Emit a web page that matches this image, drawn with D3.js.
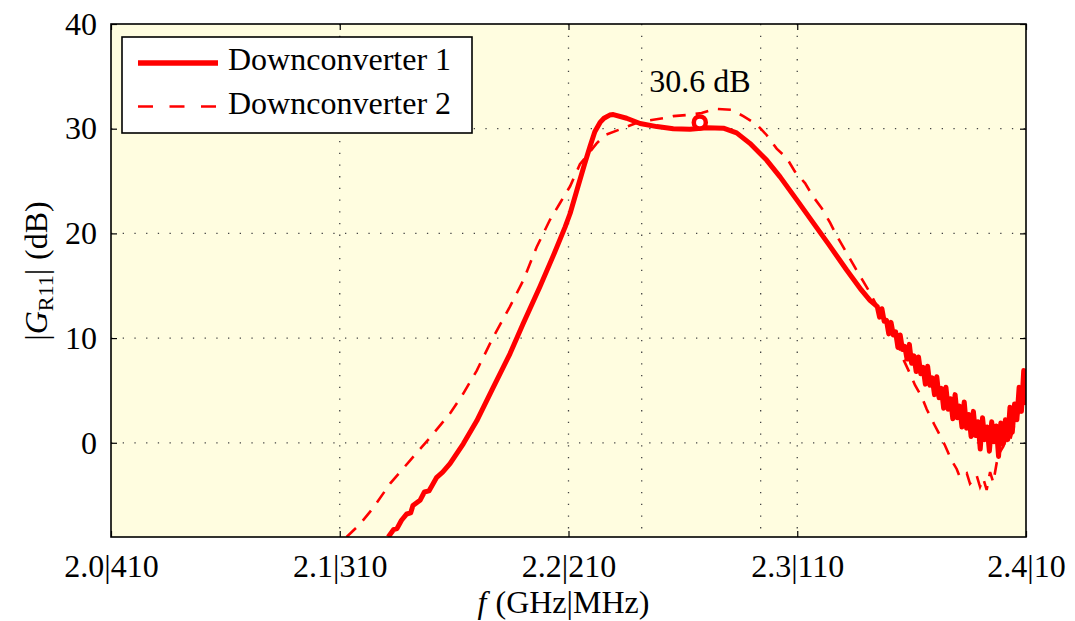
<!DOCTYPE html>
<html>
<head>
<meta charset="utf-8">
<script src="https://cdn.jsdelivr.net/npm/d3@7"></script>
<style>
  body { margin: 0; background: #fff; }
  svg { font-family: "Liberation Serif", "DejaVu Serif", serif; }
</style>
</head>
<body>
<div id="chart"></div>
<script>
// measured gain |G_R11| of the two downconverters, frequency in GHz
const FREQ_1 = [2.1212, 2.1235, 2.1250, 2.1270, 2.1293, 2.1310, 2.1320, 2.1351, 2.1370, 2.1390,
  2.1424, 2.1450, 2.1482, 2.1540, 2.1599, 2.1671, 2.1744, 2.1802, 2.1875, 2.1934,
  2.1985, 2.2007, 2.2043, 2.2070, 2.2094, 2.2115, 2.2138, 2.2155, 2.2180, 2.2196,
  2.2254, 2.2313, 2.2386, 2.2458, 2.2531, 2.2604, 2.2677, 2.2735, 2.2793, 2.2866,
  2.2925, 2.2998, 2.3070, 2.3136, 2.3216, 2.3280, 2.3318,
  2.335, 2.336, 2.337, 2.338, 2.339, 2.340, 2.341, 2.342, 2.343, 2.344,
  2.345, 2.346, 2.347, 2.348, 2.349, 2.350, 2.351, 2.352, 2.353, 2.354,
  2.355, 2.356, 2.357, 2.358, 2.359, 2.360, 2.361, 2.362, 2.363, 2.364,
  2.365, 2.366, 2.367, 2.368, 2.369, 2.370, 2.371, 2.372, 2.373, 2.374,
  2.375, 2.376, 2.377, 2.378, 2.379, 2.380, 2.381, 2.382, 2.383, 2.384,
  2.385, 2.386, 2.387, 2.388, 2.389, 2.390, 2.391, 2.392, 2.393, 2.394,
  2.395, 2.396, 2.397, 2.398, 2.399, 2.400];
const GAIN_1 = [-9.0, -8.3, -8.2, -7.4, -6.8, -6.7, -6.0, -5.5, -4.7, -4.6,
  -3.3, -2.8, -2.0, -0.1, 2.1, 5.3, 8.5, 11.4, 14.9, 17.9,
  20.6, 21.9, 24.6, 26.6, 28.3, 29.7, 30.6, 31.0, 31.3, 31.35,
  31.0, 30.5, 30.2, 30.0, 29.95, 30.1, 30.05, 29.6, 28.6, 27.0,
  25.4, 23.2, 21.0, 19.0, 16.5, 14.6, 13.6,
  13.0, 12.0, 12.8, 11.6, 11.7, 10.4, 11.5, 10.3, 10.6, 9.1,
  10.3, 8.9, 9.2, 8.0, 9.4, 7.6, 8.3, 6.8, 8.2, 6.6,
  7.2, 5.6, 7.3, 5.5, 6.2, 4.6, 6.3, 4.3, 5.2, 3.3,
  5.3, 3.2, 4.2, 2.3, 4.6, 2.4, 3.5, 1.5, 3.9, 1.4,
  2.7, 0.6, 3.0, 0.7, 2.0, -0.6, 2.4, 0.3, 1.5, -0.8,
  2.0, 0.1, 1.6, -1.3, 1.9, -0.1, 2.2, 0.3, 3.4, 1.0,
  3.7, 2.2, 5.3, 3.0, 6.9, 3.6];

const FREQ_2 = [2.1030, 2.1089, 2.1147, 2.1220, 2.1307, 2.1395, 2.1482, 2.1540, 2.1599, 2.1671,
  2.1744, 2.1802, 2.1861, 2.1919, 2.1963, 2.2007, 2.2050, 2.2123, 2.2160, 2.2233,
  2.2291, 2.2356, 2.2414, 2.2458, 2.2517, 2.2582, 2.2640, 2.2713, 2.2764, 2.2823,
  2.2866, 2.2910, 2.2954, 2.2990, 2.3034, 2.3070, 2.3107, 2.3144, 2.3172, 2.3209,
  2.3267, 2.3311, 2.3362, 2.3435, 2.3461, 2.3493, 2.3515, 2.3544, 2.3566, 2.3599,
  2.3624, 2.3646, 2.3675, 2.3697, 2.3711, 2.3741, 2.3755, 2.3784, 2.3799, 2.3813,
  2.3828, 2.3843, 2.3857, 2.3872, 2.3886, 2.3901, 2.3916, 2.3930, 2.3945, 2.3961,
  2.3974, 2.3987, 2.4000];
const GAIN_2 = [-9.0, -7.75, -6.2, -3.9, -1.7, 0.5, 2.8, 4.7, 6.9, 10.1,
  13.0, 15.5, 18.7, 21.3, 22.9, 24.5, 26.6, 28.6, 29.4, 30.0,
  30.5, 30.8, 31.0, 31.2, 31.3, 31.5, 31.9, 31.8, 31.2, 30.4,
  29.4, 28.1, 27.2, 25.9, 24.8, 23.5, 22.4, 21.0, 19.8, 18.4,
  16.2, 14.6, 12.5, 9.8, 8.1, 6.6, 5.5, 4.4, 3.2, 1.75,
  0.7, -0.26, -1.7, -2.5, -3.3, -2.9, -3.9, -3.1, -4.2, -3.4,
  -4.5, -2.8, -3.8, -1.9, -0.9, -0.35, 0.5, 0.2, 1.4, 2.3,
  3.6, 4.8, 5.5];

const SERIES_NAMES = ["Downconverter 1", "Downconverter 2"];

// axes
const X_TICKS = [2.0, 2.1, 2.2, 2.3, 2.4];
const X_TICK_LABELS = ["2.0|410", "2.1|310", "2.2|210", "2.3|110", "2.4|10"];
const Y_TICKS = [0, 10, 20, 30, 40];
const X_GRID = [2.1, 2.2, 2.232, 2.284, 2.3];
const Y_GRID = [0, 10, 20, 30];

// marked point
const MARK_FREQ = 2.2574;
const MARK_GAIN = 30.6;

const FRAME_HEIGHT = 621;
const FRAME_WIDTH = 1075;
const MARGINS = {left: 111, right: 49, top: 24, bottom: 84};
const FONT = "'Liberation Serif', 'DejaVu Serif', serif";

const VIS_HEIGHT = FRAME_HEIGHT - MARGINS.top - MARGINS.bottom;
const VIS_WIDTH = FRAME_WIDTH - MARGINS.left - MARGINS.right;

const RED = "#ff0000";

const FRAME = d3.select("#chart")
                .append("svg")
                  .attr("width", FRAME_WIDTH)
                  .attr("height", FRAME_HEIGHT);

const X_SCALE = d3.scaleLinear()
                  .domain([2.0, 2.4])
                  .range([0, VIS_WIDTH]);
const Y_SCALE = d3.scaleLinear()
                  .domain([-9, 40])
                  .range([VIS_HEIGHT, 0]);

const PLOT = FRAME.append("g")
                  .attr("transform", "translate(" + MARGINS.left + "," + MARGINS.top + ")");

// pale yellow plot background
PLOT.append("rect")
    .attr("width", VIS_WIDTH)
    .attr("height", VIS_HEIGHT)
    .attr("fill", "#fffde0");

PLOT.append("clipPath")
    .attr("id", "clip")
  .append("rect")
    .attr("width", VIS_WIDTH)
    .attr("height", VIS_HEIGHT);

// dotted grid
PLOT.selectAll(".xgrid")
    .data(X_GRID)
    .enter()
    .append("line")
      .attr("x1", (d) => X_SCALE(d))
      .attr("x2", (d) => X_SCALE(d))
      .attr("y1", 0)
      .attr("y2", VIS_HEIGHT)
      .attr("stroke", "#444")
      .attr("stroke-width", 1.3)
      .attr("stroke-dasharray", "1.3,10.4");

PLOT.selectAll(".ygrid")
    .data(Y_GRID)
    .enter()
    .append("line")
      .attr("x1", 0)
      .attr("x2", VIS_WIDTH)
      .attr("y1", (d) => Y_SCALE(d))
      .attr("y2", (d) => Y_SCALE(d))
      .attr("stroke", "#444")
      .attr("stroke-width", 1.3)
      .attr("stroke-dasharray", "1.3,10.4");

// curves
const line = d3.line()
               .x((d) => X_SCALE(d[0]))
               .y((d) => Y_SCALE(d[1]));

const data1 = FREQ_1.map((f, i) => [f, GAIN_1[i]]);
const data2 = FREQ_2.map((f, i) => [f, GAIN_2[i]]);

const CURVES = PLOT.append("g").attr("clip-path", "url(#clip)");

CURVES.append("path")
      .datum(data2)
      .attr("d", line)
      .attr("fill", "none")
      .attr("stroke", RED)
      .attr("stroke-width", 2.6)
      .attr("stroke-dasharray", "13,10");

CURVES.append("path")
      .datum(data1)
      .attr("d", line)
      .attr("fill", "none")
      .attr("stroke", RED)
      .attr("stroke-width", 5)
      .attr("stroke-linejoin", "round");

// marker and its label
PLOT.append("circle")
    .attr("cx", X_SCALE(MARK_FREQ))
    .attr("cy", Y_SCALE(MARK_GAIN))
    .attr("r", 6)
    .attr("fill", "#fff")
    .attr("stroke", RED)
    .attr("stroke-width", 4.5);

PLOT.append("text")
    .attr("x", X_SCALE(MARK_FREQ))
    .attr("y", Y_SCALE(MARK_GAIN) - 30)
    .attr("text-anchor", "middle")
    .style("font-size", "32px")
    .text(MARK_GAIN.toFixed(1) + " dB");

// axes with inward ticks on all four sides
function style_axis(g) {
    g.attr("font-family", FONT).attr("font-size", 32);
    g.select(".domain").remove();
    g.selectAll(".tick text")
        .style("font-family", FONT)
        .style("font-size", "32px")
        .attr("fill", "#000");
    g.selectAll(".tick line")
        .attr("stroke", "#000")
        .attr("stroke-width", 1.2);
}

PLOT.append("g")
    .attr("transform", "translate(0," + VIS_HEIGHT + ")")
    .call(d3.axisBottom(X_SCALE)
            .tickValues(X_TICKS)
            .tickFormat((d, i) => X_TICK_LABELS[i])
            .tickSize(-6)
            .tickSizeOuter(0)
            .tickPadding(17))
    .call(style_axis);

PLOT.append("g")
    .call(d3.axisTop(X_SCALE)
            .tickValues(X_TICKS)
            .tickFormat("")
            .tickSize(-6)
            .tickSizeOuter(0))
    .call(style_axis);

PLOT.append("g")
    .call(d3.axisLeft(Y_SCALE)
            .tickValues(Y_TICKS)
            .tickSize(-6)
            .tickSizeOuter(0)
            .tickPadding(14))
    .call(style_axis);

PLOT.append("g")
    .attr("transform", "translate(" + VIS_WIDTH + ",0)")
    .call(d3.axisRight(Y_SCALE)
            .tickValues(Y_TICKS)
            .tickFormat("")
            .tickSize(-6)
            .tickSizeOuter(0))
    .call(style_axis);

// plot border
PLOT.append("rect")
    .attr("width", VIS_WIDTH)
    .attr("height", VIS_HEIGHT)
    .attr("fill", "none")
    .attr("stroke", "#000")
    .attr("stroke-width", 1.6);

// axis titles
const xTitle = FRAME.append("text")
                    .attr("x", MARGINS.left + X_SCALE(2.2) - 5)
                    .attr("y", 613)
                    .attr("text-anchor", "middle")
                    .style("font-size", "32px");
xTitle.append("tspan").style("font-style", "italic").text("f");
xTitle.append("tspan").attr("dx", 9).text("(GHz|MHz)");

const yTitle = FRAME.append("text")
                    .attr("transform", "translate(47,271) rotate(-90)")
                    .attr("text-anchor", "middle")
                    .style("font-size", "32px");
yTitle.append("tspan").text("|");
yTitle.append("tspan").style("font-style", "italic").text("G");
yTitle.append("tspan").attr("dy", 6).style("font-size", "22px").text("R11");
yTitle.append("tspan").attr("dy", -6).text("|");
yTitle.append("tspan").attr("dx", 9).text("(dB)");

// legend
const LEGEND = FRAME.append("g")
                    .attr("transform", "translate(122,37)");

LEGEND.append("rect")
      .attr("width", 350)
      .attr("height", 96)
      .attr("fill", "#fff")
      .attr("stroke", "#000")
      .attr("stroke-width", 1.6);

LEGEND.selectAll(".key")
      .data(SERIES_NAMES)
      .enter()
      .append("line")
        .attr("x1", 16)
        .attr("x2", 96)
        .attr("y1", (d, i) => 26 + i * 43.5)
        .attr("y2", (d, i) => 26 + i * 43.5)
        .attr("stroke", RED)
        .attr("stroke-width", (d, i) => i === 0 ? 5.5 : 2.6)
        .attr("stroke-dasharray", (d, i) => i === 0 ? null : "15,16.5");

LEGEND.selectAll(".name")
      .data(SERIES_NAMES)
      .enter()
      .append("text")
        .attr("x", 106)
        .attr("y", (d, i) => 33 + i * 43.5)
        .style("font-size", "32px")
        .text((d) => d);
</script>
</body>
</html>
